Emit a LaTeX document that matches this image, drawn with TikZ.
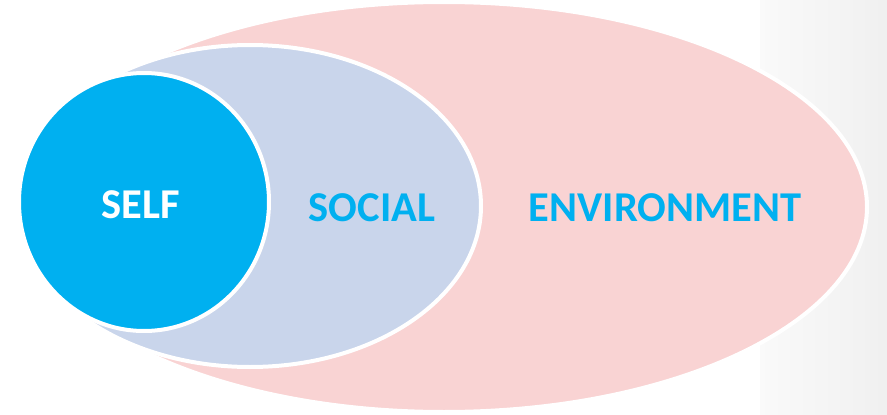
\documentclass[tikz,border=0pt]{standalone}
\usepackage{fontspec}
\setmainfont{Carlito}
\usetikzlibrary{shapes.geometric}
\definecolor{selfcyan}{HTML}{00B0F0}
\definecolor{socialfill}{HTML}{C9D5EB}
\definecolor{envfill}{HTML}{F9D3D3}

\begin{document}
\begin{tikzpicture}[x=1pt,y=-1pt,
        zone/.style={ellipse,draw=white,line width=4pt,inner sep=0pt},
        label/.style={font=\fontsize{42.5}{42.5}\selectfont\bfseries,text=selfcyan}]
        \useasboundingbox (0,0) rectangle (887,415);

        % Grey strip on the right
        \shade[left color=gray!4, right color=gray!12] (760,0) rectangle (887,415);

        % Environment
        \node[zone, fill=envfill, minimum width=846, minimum height=410] (environment) at (444,207) {};

        % Social
        \node[zone, fill=socialfill, minimum width=462, minimum height=322] (social) at (250,206) {};

        % Self
        \node[zone, fill=selfcyan, minimum width=250, minimum height=258] (self) at (144,202) {};

        % Labels
        \node[label, text=white] (selftext) at (141,205) {SELF};
        \node[label] (socialtext) at (372,208) {SOCIAL};
        \node[label] (envtext) at (665,208) {ENVIRONMENT};
    \end{tikzpicture}
\end{document}
